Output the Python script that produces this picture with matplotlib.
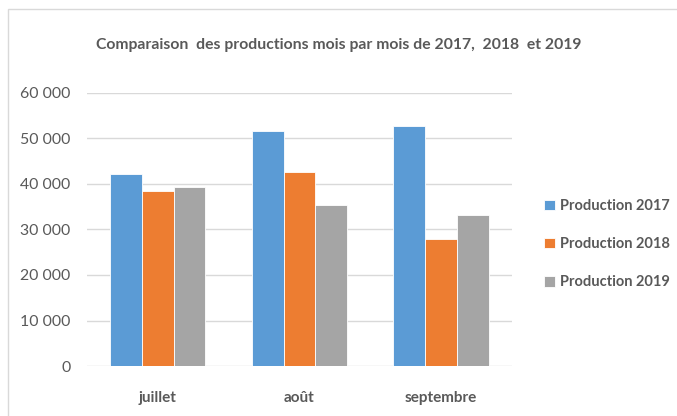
import numpy as np
import matplotlib.pyplot as plt
from matplotlib.patches import Rectangle
from matplotlib.ticker import FuncFormatter

mois = ['juillet', 'août', 'septembre']
prod2017 = [42200, 51700, 52800]
prod2018 = [38400, 42600, 27800]
prod2019 = [39400, 35300, 33200]
series = ['Production 2017', 'Production 2018', 'Production 2019']
couleurs = ['#5B9BD5', '#ED7D31', '#A5A5A5']

plt.rcParams['font.family'] = ['Lato', 'DejaVu Sans']
gris = '#595959'

fig = plt.figure(figsize=(6.77, 4.16), dpi=100)
ax = fig.add_axes([0.1285, 0.12, 0.6275, 0.657])

x = np.arange(len(mois))
w = 0.224
for i, (vals, lab, c) in enumerate(zip([prod2017, prod2018, prod2019], series, couleurs)):
    ax.bar(x + (i - 1) * w, vals, width=w, color=c, label=lab,
           edgecolor='white', linewidth=0.6, zorder=3)

ax.set_ylim(0, 60000)
ax.set_xlim(-0.5, 2.5)
ax.set_yticks(range(0, 60001, 10000))
ax.yaxis.set_major_formatter(FuncFormatter(lambda v, p: '{:,.0f}'.format(v).replace(',', ' ')))
ax.grid(axis='y', color='#D9D9D9', linewidth=1, zorder=0)
for s in ax.spines.values():
    s.set_visible(False)
ax.tick_params(axis='both', length=0, colors=gris)
ax.tick_params(axis='y', labelsize=11.4, pad=12)
ax.set_xticks(x)
ax.set_xticklabels(mois, fontsize=11, fontweight='bold')
ax.tick_params(axis='x', pad=18)

fig.text(0.5, 0.892, 'Comparaison  des productions mois par mois de 2017,  2018  et 2019',
         ha='center', va='center', fontsize=11.3, fontweight='bold', color=gris)

leg = fig.legend(loc='center left', bbox_to_anchor=(0.803, 0.413), frameon=False,
                 borderpad=0, borderaxespad=0,
                 handlelength=0.75, handleheight=0.75, handletextpad=0.35,
                 labelspacing=1.65, prop={'size': 10.5, 'weight': 'bold'})
for t in leg.get_texts():
    t.set_color(gris)

fig.patches.append(Rectangle((8 / 677, -0.1), 1.2, 1 - 9 / 416 + 0.1,
                             transform=fig.transFigure, fill=False,
                             edgecolor='#D9D9D9', linewidth=1))

fig.savefig('out.png', dpi=100)
